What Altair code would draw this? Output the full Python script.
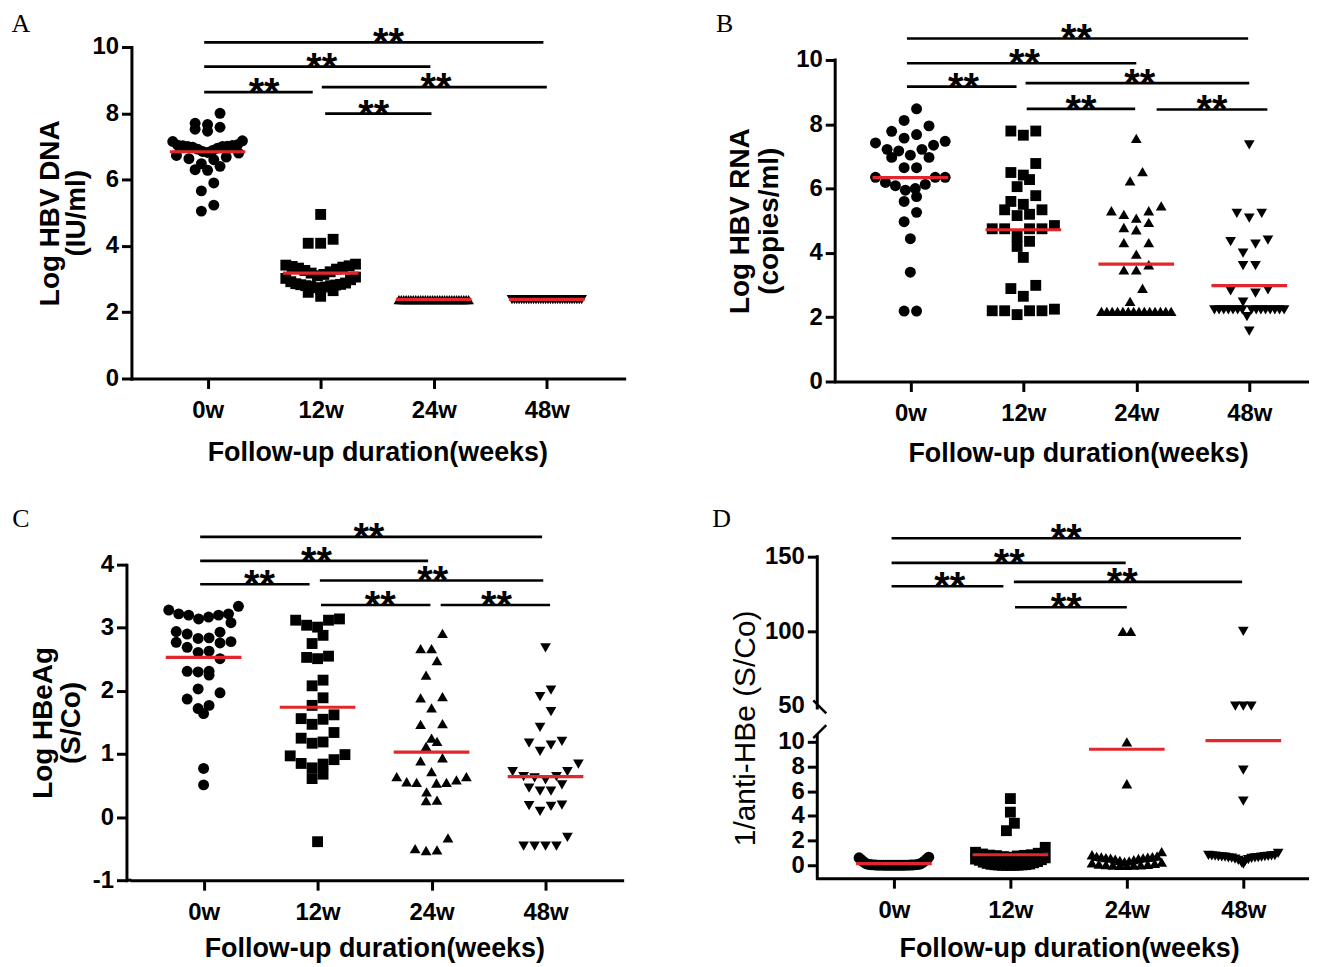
import altair as alt
import pandas as pd

GROUPS = ["0w", "12w", "24w", "48w"]
SHAPES = ["circle", "square", "triangle-up", "triangle-down"]

# ---------------- Panel A : Log HBV DNA (IU/ml)
A_0w = [8.0, 7.7, 7.66, 7.58, 7.52, 7.46, 7.17, 7.15, 7.05, 7.04, 7.03, 7.02, 7.01, 7.0, 7.0,
        6.98, 6.95, 6.92, 6.88, 6.85, 6.82, 6.8, 6.73, 6.68, 6.63, 6.6, 6.48, 6.4, 6.3, 6.28,
        5.9, 5.66, 5.23, 5.05]
A_12w = [4.95, 4.2, 4.08, 4.08, 3.45, 3.42, 3.4, 3.38, 3.36, 3.33, 3.3, 3.26, 3.22, 3.18, 3.14,
         3.1, 3.06, 3.02, 2.98, 2.92, 2.88, 2.86, 2.84, 2.83, 2.82, 2.8, 2.8, 2.78, 2.76, 2.74,
         2.7, 2.65, 2.6, 2.48]
A_24w = [2.38, 2.38, 2.38, 2.38, 2.38, 2.38, 2.38, 2.38, 2.38, 2.38, 2.38, 2.38, 2.38, 2.38, 2.38,
         2.38, 2.38, 2.38, 2.38, 2.38, 2.38, 2.38, 2.38, 2.38, 2.38, 2.38, 2.38, 2.38, 2.38, 2.38]
A_48w = [2.38, 2.38, 2.38, 2.38, 2.38, 2.38, 2.38, 2.38, 2.38, 2.38, 2.38, 2.38, 2.38, 2.38, 2.38,
         2.38, 2.38, 2.38, 2.38, 2.38, 2.38, 2.38, 2.38, 2.38, 2.38, 2.38, 2.38, 2.38, 2.38, 2.38]
A_MEAN = [6.84, 3.18, 2.39, 2.39]
# (start group, end group, level, star position)
A_BRACKETS = [(-0.03, 2.97, 10.14, 1.6), (-0.03, 1.97, 9.41, 1.01), (-0.03, 0.93, 8.64, 0.5),
              (1.01, 3.0, 8.79, 2.02), (1.04, 1.98, 7.99, 1.47)]

# ---------------- Panel B : Log HBV RNA (copies/ml)
B_0w = [8.48, 8.12, 7.95, 7.78, 7.68, 7.57, 7.47, 7.42, 7.35, 7.22, 7.22, 7.17, 7.04, 6.97, 6.97,
        6.65, 6.65, 6.35, 6.35, 6.35, 6.19, 6.13, 6.09, 6.0, 5.95, 5.75, 5.6, 5.26, 4.97, 4.44,
        3.4, 2.19, 2.19]
B_12w = [7.79, 7.79, 7.66, 6.78, 6.5, 6.42, 6.28, 6.06, 5.78, 5.6, 5.51, 5.34, 5.34, 5.2, 5.16,
         4.85, 4.75, 4.75, 4.75, 4.75, 4.51, 4.36, 4.2, 3.86, 2.99, 2.89, 2.65, 2.25, 2.2, 2.2,
         2.2, 2.2, 2.08]
B_24w = [7.56, 6.53, 6.24, 5.46, 5.31, 5.31, 5.2, 5.08, 4.95, 4.79, 4.72, 4.32, 4.32, 3.96, 3.63,
         3.47, 3.47, 2.9, 2.49, 2.18, 2.18, 2.18, 2.18, 2.18, 2.18, 2.18, 2.18, 2.18, 2.18, 2.18,
         2.18, 2.18, 2.18]
B_48w = [7.36, 5.23, 5.23, 5.08, 4.4, 4.35, 4.27, 3.99, 3.6, 3.6, 2.85, 2.82, 2.75, 2.47, 2.23,
         2.23, 2.23, 2.23, 2.23, 2.23, 2.23, 2.23, 2.23, 2.23, 2.23, 2.23, 2.23, 2.23, 2.23, 2.02,
         1.57]
B_MEAN = [6.34, 4.72, 3.65, 2.98]
B_BRACKETS = [(-0.03, 2.99, 10.67, 1.47), (-0.03, 2.0, 9.9, 1.01), (-0.03, 0.94, 9.17, 0.47),
              (1.02, 3.0, 9.28, 2.03), (1.03, 1.99, 8.48, 1.51), (2.18, 3.16, 8.46, 2.67)]

# ---------------- Panel C : Log HBeAg (S/Co)
C_0w = [3.34, 3.28, 3.22, 3.22, 3.2, 3.2, 3.17, 3.14, 3.08, 2.94, 2.93, 2.9, 2.84, 2.83, 2.78,
        2.77, 2.76, 2.69, 2.63, 2.61, 2.51, 2.31, 2.31, 2.3, 2.25, 2.03, 1.97, 1.87, 1.77, 1.72,
        1.64, 0.77, 0.51]
C_12w = [3.14, 3.12, 3.12, 3.04, 3.01, 2.88, 2.75, 2.55, 2.53, 2.51, 2.17, 2.08, 1.89, 1.77, 1.62,
         1.56, 1.55, 1.47, 1.34, 1.25, 1.19, 1.17, 0.99, 0.97, 0.91, 0.85, 0.84, 0.78, 0.68, 0.61,
         -0.39]
C_24w = [2.91, 2.67, 2.67, 2.48, 2.25, 1.91, 1.89, 1.73, 1.48, 1.47, 1.25, 1.2, 1.12, 0.94, 0.89,
         0.72, 0.64, 0.64, 0.59, 0.56, 0.55, 0.55, 0.54, 0.4, 0.27, 0.26, -0.33, -0.5, -0.52,
         -0.53]
C_48w = [2.68, 2.01, 1.91, 1.67, 1.42, 1.2, 1.17, 1.14, 1.04, 0.84, 0.72, 0.72, 0.64, 0.64, 0.62,
         0.59, 0.51, 0.46, 0.41, 0.41, 0.19, 0.18, 0.17, 0.09, -0.32, -0.46, -0.46, -0.46, -0.46]
C_MEAN = [2.53, 1.74, 1.03, 0.64]
C_BRACKETS = [(-0.03, 2.97, 4.44, 1.45), (-0.03, 1.97, 4.06, 0.99), (-0.03, 0.93, 3.69, 0.49),
              (1.02, 2.98, 3.75, 2.01), (1.03, 1.99, 3.36, 1.55), (2.08, 3.04, 3.36, 2.57)]

# ---------------- Panel D : 1/anti-HBe (S/Co)  (broken axis 10 | 50)
D_0w = [0.65, 0.6, 0.5, 0.45, 0.35, 0.3, 0.22, 0.18, 0.12, 0.1, 0.08, 0.06, 0.05, 0.04, 0.03,
        0.03, 0.02, 0.02, 0.02, 0.01, 0.01, 0.01, 0.01, 0.01, 0.0, 0.0, 0.0, 0.0, 0.0, 0.0,
        0.0, 0.0, 0.0, 0.0, 0.0]
D_12w = [5.4, 4.3, 3.4, 2.8, 1.45, 1.05, 0.97, 0.91, 0.85, 0.82, 0.8, 0.78, 0.75, 0.7, 0.65,
         0.6, 0.5, 0.45, 0.4, 0.3, 0.25, 0.2, 0.15, 0.1, 0.08, 0.05, 0.04, 0.03, 0.02, 0.01,
         0.0, 0.0, 0.0, 0.0]
D_24w = [100, 100, 10.0, 6.6, 1.1, 0.85, 0.75, 0.72, 0.7, 0.68, 0.65, 0.62, 0.6, 0.58, 0.55,
         0.5, 0.45, 0.4, 0.35, 0.3, 0.25, 0.2, 0.15, 0.1, 0.08, 0.05, 0.03, 0.02, 0.01, 0.0, 0.0]
D_48w = [100, 50, 50, 50, 7.7, 5.2, 0.97, 0.8, 0.78, 0.76, 0.75, 0.74, 0.72, 0.7, 0.7, 0.68,
         0.66, 0.65, 0.62, 0.6, 0.6, 0.58, 0.55, 0.5, 0.45, 0.4, 0.3, 0.2, 0.1]
D_MEAN = [0.13, 0.85, 9.4, 10.1]
D_BRACKETS = [(-0.02, 2.98, 26.5, 1.48), (-0.02, 1.99, 24.5, 0.99), (-0.02, 0.94, 22.6, 0.48),
              (1.03, 2.99, 22.96, 1.96), (1.04, 2.0, 20.9, 1.48)]
D_LABELS = [0, 2, 4, 6, 8, 10, 50, 100, 150]

# broken-axis transform for panel D
D_BREAK_T = 12.9
D_UPPER_K = 0.121


def d_t(v):
    return v if v <= 30 else D_BREAK_T + (v - 50) * D_UPPER_K


FONT = "Liberation Sans"
SERIF = "Liberation Serif"
RED = "#e3262b"


def swarm_offsets(vals, marker_px, bin_px, px_per_unit, step_px, gap_px=1.5, max_span_px=70):
    n = len(vals)
    order = sorted(range(n), key=lambda i: -vals[i])
    tol = bin_px / px_per_unit
    rows, cur = [], []
    for i in order:
        if cur and vals[cur[0]] - vals[i] >= tol:
            rows.append(cur)
            cur = []
        cur.append(i)
    if cur:
        rows.append(cur)
    off = [0.0] * n
    for row in rows:
        m = len(row)
        sp = marker_px + gap_px
        if m > 1:
            sp = min(sp, max_span_px / (m - 1))
        slots = [k - (m - 1) / 2 for k in range(m)]
        slot_order = sorted(range(m), key=lambda k: (abs(slots[k]), slots[k]))
        asc = sorted(row, key=lambda i: vals[i])
        for i, k in zip(asc, slot_order):
            off[i] = slots[k] * sp / step_px
    return off


def build_panel(p):
    step = p["step"]
    xlo = (p["x0"] - p["tick0"]) / step
    xhi = xlo + p["W"] / step
    W, H = p["W"], p["H"]
    ylo, yhi = p["ydom"]
    ppu = H / (yhi - ylo)
    tf = p.get("tf", lambda v: v)

    rows = []
    for gi, (g, vals) in enumerate(zip(GROUPS, p["series"])):
        tv = [tf(v) for v in vals]
        off = swarm_offsets(tv, p["marker"], p["bin"], ppu, step)
        for v, t, o in zip(vals, tv, off):
            rows.append({"grp": g, "value": v, "y": t, "x": gi + o})
    pts = pd.DataFrame(rows)

    hw = 38 / step
    means = pd.DataFrame({"grp": GROUPS,
                          "y": [tf(m) for m in p["means"]],
                          "x1": [i - hw for i in range(4)],
                          "x2": [i + hw for i in range(4)]})
    br = pd.DataFrame([{"x1": a, "x2": b, "y": lv, "sx": s} for a, b, lv, s in p["brackets"]])

    xs = alt.Scale(domain=[xlo, xhi], nice=False, zero=False)
    ys = alt.Scale(domain=[ylo, yhi], nice=False, zero=False)
    xa = alt.Axis(values=[0, 1, 2, 3], labelExpr="['0w','12w','24w','48w'][datum.value]",
                  title="Follow-up duration(weeks)", titleX=p["xtx"], titleY=p["xty"],
                  titleAlign="center", titleBaseline="middle", labelPadding=10,
                  labelOverlap=False, labelFlush=False)
    yargs = dict(values=p["yvalues"], labelExpr=p["ylabel"], title=p["ytitle"],
                 titleX=p["ytx"], titleY=p.get("yty", H / 2), titleAngle=270, titleAlign="center",
                 titleBaseline="middle", titleLineHeight=p.get("ytlh", 27), labelPadding=3,
                 labelOverlap=False, titleFontSize=p.get("ytsize", 28))
    if p.get("ytitle_weight"):
        yargs["titleFontWeight"] = p["ytitle_weight"]
    if p.get("yoffset"):
        yargs["offset"] = p["yoffset"]
    if p.get("segments"):
        yargs["domain"] = False
    if p.get("hide_tick_test"):
        yargs["tickOpacity"] = {"condition": {"test": p["hide_tick_test"], "value": 0}, "value": 1}
    ya = alt.Axis(**yargs)

    def X(f):
        return alt.X(f, type="quantitative", scale=xs, axis=xa)

    def Y(f):
        return alt.Y(f, type="quantitative", scale=ys, axis=ya)

    one = pd.DataFrame({"k": [0]})
    L, T, R, B = p["anchor"]
    anchor = alt.Chart(one).mark_rule(strokeOpacity=0, strokeWidth=0.1).encode(
        x=alt.value(-L), x2=alt.value(W + R), y=alt.value(-T), y2=alt.value(H + B))

    msz = p["marker"]
    tri = p.get("tri", 1.45)
    points = alt.Chart(pts).mark_point(filled=True, opacity=1, strokeWidth=0, color="black").encode(
        x=X("x"), y=Y("y"),
        shape=alt.Shape("grp:N", scale=alt.Scale(domain=GROUPS, range=SHAPES), legend=None),
        size=alt.Size("grp:N", scale=alt.Scale(domain=GROUPS,
                                               range=[msz * msz, msz * msz * 0.95,
                                                      msz * msz * tri, msz * msz * tri]),
                      legend=None))
    mean_rules = alt.Chart(means).mark_rule(color=RED, strokeWidth=3.2).encode(
        x=X("x1"), x2="x2", y=Y("y"))
    br_rules = alt.Chart(br).mark_rule(color="black", strokeWidth=2.6).encode(
        x=X("x1"), x2="x2", y=Y("y"))
    br_text = alt.Chart(br).mark_text(text="**", font=FONT, fontSize=40, fontWeight="bold",
                                      color="black", baseline="alphabetic", dy=14).encode(
        x=X("sx"), y=Y("y"))
    lx, ly = p["letter_pos"]
    letter = alt.Chart(one).mark_text(text=p["letter"], font=SERIF, fontSize=26, color="black",
                                      align="center", baseline="middle").encode(
        x=alt.value(lx), y=alt.value(ly))
    layers = [anchor, points, mean_rules, br_rules, br_text, letter]

    if p.get("segments"):
        segs = pd.DataFrame({"y1": [s[0] for s in p["segments"]], "y2": [s[1] for s in p["segments"]]})
        layers.append(alt.Chart(segs).mark_rule(color="black", strokeWidth=3, strokeCap="square").encode(
            x=alt.value(0), y=Y("y1"), y2="y2"))
    for (ya1, ya2) in p.get("slashes", []):
        sd = pd.DataFrame({"y1": [ya1], "y2": [ya2]})
        layers.append(alt.Chart(sd).mark_rule(color="black", strokeWidth=2.5).encode(
            x=alt.value(-4), x2=alt.value(9), y=Y("y1"), y2="y2"))
    if p.get("yoffset"):
        fd = pd.DataFrame({"y1": [ylo]})
        layers.append(alt.Chart(fd).mark_rule(color="black", strokeWidth=3).encode(
            x=alt.value(-p["yoffset"]), x2=alt.value(0), y=Y("y1")))

    return alt.layer(*layers).properties(width=W, height=H)


TOP = 13      # page y of the chart's top edge
LEFT = 8      # page x of the chart's left edge
COL2 = 668    # page x where the right column starts
ROW2 = 490    # page y where the lower row starts
RIGHT = 1312
BOTTOM = 968


def anchor_of(x0, y0, W, H, cl, ct, cr, cb):
    return (x0 - cl, y0 - ct, cr - (x0 + W), cb - (y0 + H))


int_label = "(datum.value < 0 ? '-' : '') + format(abs(datum.value), 'd')"

pA = dict(series=[A_0w, A_12w, A_24w, A_48w], means=A_MEAN, brackets=A_BRACKETS,
          x0=131, y0=48, W=495, H=333, step=113.6, tick0=207.5, ydom=(0, 10),
          yvalues=[0, 2, 4, 6, 8, 10], ylabel=int_label, ytitle=["Log HBV DNA", "(IU/ml)"],
          ytx=-81, ytlh=26, xtx=247, xty=74, marker=11, bin=12, tri=1.75,
          letter="A", letter_pos=(-111, -23))
pA["anchor"] = anchor_of(131, 48, 495, 333, LEFT, TOP, COL2, ROW2)

# B: plot area starts at the same top as A; the axis line is drawn from 0 to 10 only
B_TOP_EXTRA = 13 * 10 / 323
pB = dict(series=[B_0w, B_12w, B_24w, B_48w], means=B_MEAN, brackets=B_BRACKETS,
          x0=836, y0=48, W=474, H=336, step=113.5, tick0=911.5, ydom=(0, 10 + B_TOP_EXTRA),
          yvalues=[0, 2, 4, 6, 8, 10], ylabel=int_label, ytitle=["Log HBV RNA", "(copies/ml)"],
          ytx=-95, ytlh=29, yty=174.5, xtx=244, xty=72, marker=11, bin=14, letter="B",
          letter_pos=(-111, -23), segments=[(0, 10)])
pB["anchor"] = anchor_of(836, 48, 474, 336, COL2, TOP, RIGHT, ROW2)

# C: same left edge as A; its y axis is displaced 5px to the left
pC = dict(series=[C_0w, C_12w, C_24w, C_48w], means=C_MEAN, brackets=C_BRACKETS,
          x0=131, y0=566, W=493, H=317, step=114.5, tick0=203.5, ydom=(-1, 4),
          yvalues=[-1, 0, 1, 2, 3, 4], ylabel=int_label, ytitle=["Log HBeAg", "(S/Co)"],
          ytx=-83, ytlh=28, xtx=244, xty=69, marker=9.5, bin=16, letter="C",
          letter_pos=(-111, -46), yoffset=5)
pC["anchor"] = anchor_of(131, 566, 493, 317, LEFT, ROW2, COL2, BOTTOM)

pD = dict(series=[D_0w, D_12w, D_24w, D_48w], means=D_MEAN, brackets=D_BRACKETS,
          x0=818, y0=558, W=492, H=323, step=117, tick0=895, ydom=(-1.05, 25.0),
          yvalues=[d_t(v) for v in D_LABELS],
          ylabel="datum.value <= 10.5 ? format(datum.value, 'd') : format(round(50 + (datum.value - %s) / %s), 'd')" % (D_BREAK_T, D_UPPER_K),
          ytitle="1/anti-HBe (S/Co)", ytitle_weight="normal", ytsize=30, yty=172,
          ytx=-72, xtx=253, xty=71, marker=6.5, bin=10, tf=d_t,
          segments=[(-1.05, 10.48), (12.74, 25.0)], slashes=[(13.35, 12.3), (10.3, 11.35)],
          hide_tick_test="datum.value > 12 && datum.value < 14",
          letter="D", letter_pos=(-96, -38))
pD["anchor"] = anchor_of(818, 558, 492, 323, COL2, ROW2, RIGHT, BOTTOM)

chart = alt.concat(build_panel(pA), build_panel(pB), build_panel(pC), build_panel(pD),
                   columns=2, spacing=0, align="none", bounds="full").properties(
    padding=0
).configure_view(
    stroke="transparent"
).configure_axis(
    domainColor="black", domainWidth=3, domainCap="square", tickColor="black", tickWidth=3,
    tickSize=10, labelColor="black", labelFont=FONT, labelFontSize=24, labelFontWeight="bold",
    titleColor="black", titleFont=FONT, titleFontSize=27, titleFontWeight="bold", grid=False
)

chart.save("out.html", embed_options={"renderer": "svg", "actions": False})
